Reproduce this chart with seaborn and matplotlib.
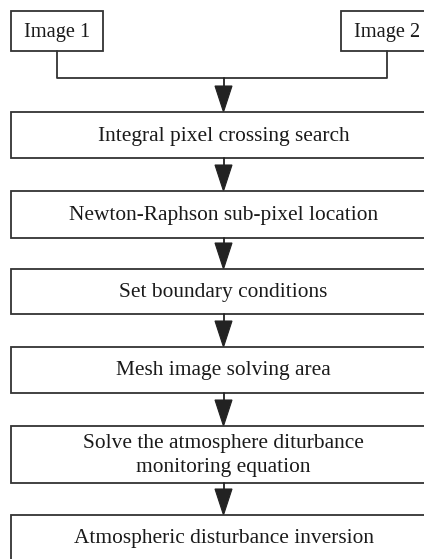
import matplotlib
matplotlib.use("Agg")
import matplotlib.pyplot as plt
from matplotlib.patches import Rectangle, Polygon
import seaborn as sns

# ---- content ----
input_labels = ["Image 1", "Image 2"]
step_labels = [
    "Integral pixel crossing search",
    "Newton-Raphson sub-pixel location",
    "Set boundary conditions",
    "Mesh image solving area",
    "Solve the atmosphere diturbance\nmonitoring equation",
    "Atmospheric disturbance inversion",
]

# ---- layout (pixel coordinates, y downward) ----
W, H = 424, 559
input_x = [11, 341]
input_w, input_top, input_h = 92, 11, 40
join_y = 78
step_left, step_w = 11, 425
step_tops = [112, 191, 269, 347, 426, 515]
step_heights = [46, 47, 45, 46, 57, 46]
head_len, head_w = 26, 17

sns.set_theme(style="white")
plt.rcParams["font.family"] = ["Liberation Serif", "DejaVu Serif"]

fig = plt.figure(figsize=(W / 100, H / 100), dpi=100)
ax = fig.add_axes([0, 0, 1, 1])
ax.set_xlim(0, W)
ax.set_ylim(H, 0)
ax.axis("off")

edge = "#333333"


def box(x, y, w, h, label, fs):
    ax.add_patch(Rectangle((x, y), w, h, facecolor="white", edgecolor=edge, lw=1.3))
    ax.text(x + w / 2, y + h / 2 + 1, label, ha="center", va="center",
            fontsize=fs, color="#1a1a1a", linespacing=1.38)


def arrow(x, y0, y1):
    ax.plot([x, x], [y0, y1 - head_len + 2], color="#222222", lw=1.3)
    ax.add_patch(Polygon([[x - head_w / 2, y1 - head_len], [x + head_w / 2, y1 - head_len], [x, y1]],
                         closed=True, facecolor="#222222", edgecolor="#222222", lw=0.8))


cx = step_left + step_w / 2

for xi, lab in zip(input_x, input_labels):
    box(xi, input_top, input_w, input_h, lab, 14.7)

# connector from inputs
c1 = input_x[0] + input_w / 2
c2 = input_x[1] + input_w / 2
ax.plot([c1, c1, c2, c2], [input_top + input_h, join_y, join_y, input_top + input_h],
        color=edge, lw=1.3)
arrow(cx, join_y, step_tops[0])

for i, lab in enumerate(step_labels):
    box(step_left, step_tops[i], step_w, step_heights[i], lab, 15.4)
    if i + 1 < len(step_labels):
        arrow(cx, step_tops[i] + step_heights[i], step_tops[i + 1])

fig.savefig("out.png", dpi=100, facecolor="white")
